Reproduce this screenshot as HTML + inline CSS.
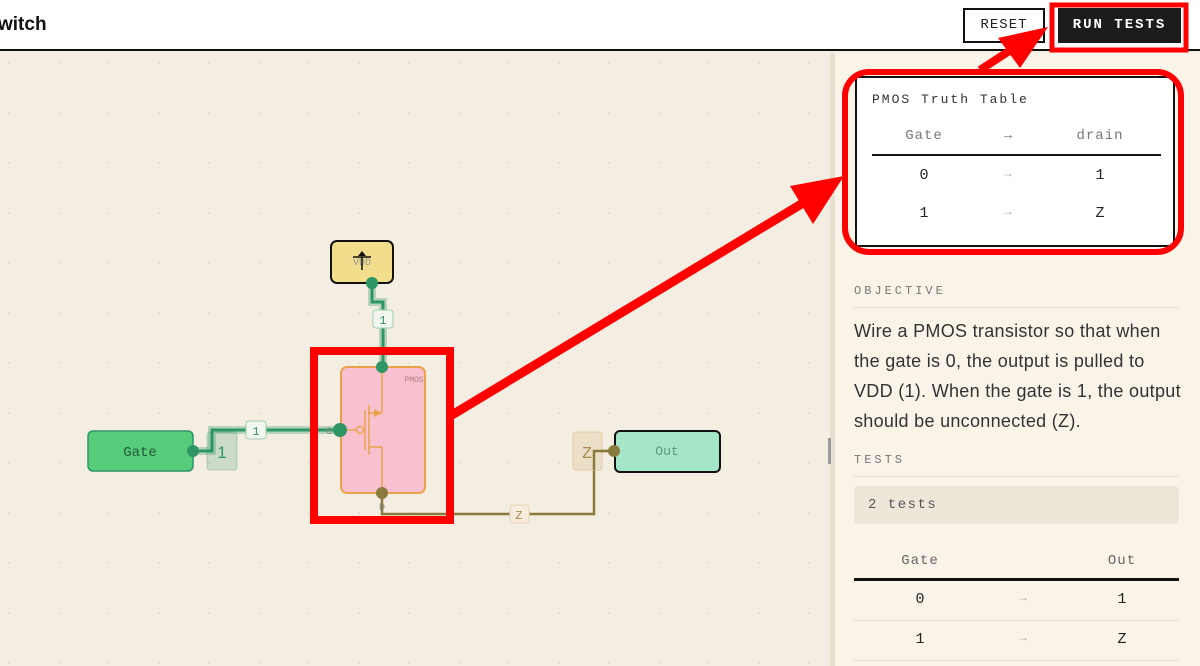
<!DOCTYPE html>
<html><head><style>
*{margin:0;padding:0;box-sizing:border-box}
body{width:1200px;height:666px;overflow:hidden;background:#f4ede1;font-family:"Liberation Sans",sans-serif;position:relative}
.mono{font-family:"Liberation Mono",monospace}
.abs{position:absolute}
</style></head><body>
<div class="abs" style="left:0;top:0;width:1200px;height:51px;background:#fff;border-bottom:2px solid #111"></div>
<div class="abs" style="left:-2px;top:14px;font-size:19px;font-weight:bold;color:#111">witch</div>
<div class="abs mono" style="left:963px;top:8px;width:82px;height:35px;border:2px solid #111;background:#fff;font-size:14px;letter-spacing:1px;text-align:center;line-height:31px;color:#222">RESET</div>
<div class="abs mono" style="left:1058px;top:8px;width:123px;height:35px;background:#1c1c1c;font-size:14px;letter-spacing:2px;text-align:center;line-height:35px;color:#fff;font-weight:bold">RUN TESTS</div>

<div class="abs" style="left:830px;top:53px;width:370px;height:613px;background:#f9f3e8;border-left:5px solid #e8dfcf"></div>
<div class="abs" style="left:828px;top:438px;width:3px;height:26px;background:#999"></div>

<div class="abs" style="left:855px;top:76px;width:320px;height:171px;background:#fff;border:2px solid #111"></div>
<div class="abs mono" style="left:872px;top:92px;font-size:13px;letter-spacing:2px;color:#333">PMOS Truth Table</div>
<div class="abs mono" style="left:874px;top:128px;width:100px;text-align:center;font-size:14px;color:#777;letter-spacing:1px">Gate</div>
<div class="abs mono" style="left:990px;top:128px;width:36px;text-align:center;font-size:14px;color:#777">→</div>
<div class="abs mono" style="left:1050px;top:128px;width:100px;text-align:center;font-size:14px;color:#777;letter-spacing:1px">drain</div>
<div class="abs" style="left:872px;top:154px;width:289px;height:2px;background:#111"></div>
<div class="abs mono" style="left:874px;top:167px;width:100px;text-align:center;font-size:15px;color:#222">0</div>
<div class="abs mono" style="left:990px;top:167px;width:36px;text-align:center;font-size:12px;color:#aaa">→</div>
<div class="abs mono" style="left:1050px;top:167px;width:100px;text-align:center;font-size:15px;color:#222">1</div>
<div class="abs mono" style="left:874px;top:205px;width:100px;text-align:center;font-size:15px;color:#222">1</div>
<div class="abs mono" style="left:990px;top:205px;width:36px;text-align:center;font-size:12px;color:#aaa">→</div>
<div class="abs mono" style="left:1050px;top:205px;width:100px;text-align:center;font-size:15px;color:#222">Z</div>

<div class="abs mono" style="left:854px;top:284px;font-size:12px;letter-spacing:3px;color:#777">OBJECTIVE</div>
<div class="abs" style="left:854px;top:307px;width:325px;height:1px;background:#e6dccb"></div>
<div class="abs" style="left:854px;top:316px;width:345px;font-size:18px;line-height:30px;color:#333;white-space:nowrap;letter-spacing:0.3px">Wire a PMOS transistor so that when<br>the gate is 0, the output is pulled to<br>VDD (1). When the gate is 1, the output<br>should be unconnected (Z).</div>
<div class="abs mono" style="left:854px;top:453px;font-size:12px;letter-spacing:3px;color:#777">TESTS</div>
<div class="abs" style="left:854px;top:476px;width:325px;height:1px;background:#e6dccb"></div>
<div class="abs mono" style="left:854px;top:486px;width:325px;height:38px;background:#efe6da;border-radius:4px;font-size:14px;letter-spacing:1.5px;color:#555;padding-left:14px;line-height:38px">2 tests</div>
<div class="abs mono" style="left:870px;top:553px;width:100px;text-align:center;font-size:14px;color:#666;letter-spacing:1px">Gate</div>
<div class="abs mono" style="left:1072px;top:553px;width:100px;text-align:center;font-size:14px;color:#666;letter-spacing:1px">Out</div>
<div class="abs" style="left:854px;top:578px;width:325px;height:3px;background:#111"></div>
<div class="abs mono" style="left:870px;top:591px;width:100px;text-align:center;font-size:15px;color:#222">0</div>
<div class="abs mono" style="left:1008px;top:591px;width:30px;text-align:center;font-size:12px;color:#aaa">→</div>
<div class="abs mono" style="left:1072px;top:591px;width:100px;text-align:center;font-size:15px;color:#222">1</div>
<div class="abs" style="left:854px;top:620px;width:325px;height:1px;background:#e6dccb"></div>
<div class="abs mono" style="left:870px;top:631px;width:100px;text-align:center;font-size:15px;color:#222">1</div>
<div class="abs mono" style="left:1008px;top:631px;width:30px;text-align:center;font-size:12px;color:#aaa">→</div>
<div class="abs mono" style="left:1072px;top:631px;width:100px;text-align:center;font-size:15px;color:#222">Z</div>
<div class="abs" style="left:854px;top:660px;width:325px;height:1px;background:#e6dccb"></div>

<svg class="abs" style="left:0;top:0" width="1200" height="666" viewBox="0 0 1200 666">
<defs><pattern id="d" width="50" height="50" patternUnits="userSpaceOnUse" x="8" y="12"><circle cx="1" cy="1" r="1" fill="#e3d9c8"/></pattern></defs>
<rect x="0" y="53" width="828" height="613" fill="url(#d)"/>
<rect x="331" y="241" width="62" height="42" rx="6" fill="#f2dd8c" stroke="#111" stroke-width="2"/>
<text x="362" y="265" font-family="Liberation Mono,monospace" font-size="10" fill="#999" text-anchor="middle">VDD</text>
<path d="M362 251 L358 256 L366 256 Z" fill="#111"/><line x1="353" y1="257" x2="371" y2="257" stroke="#111" stroke-width="1.5"/><line x1="362" y1="257" x2="362" y2="270" stroke="#111" stroke-width="1.5"/>
<path d="M372 283 V302 H383 V367" fill="none" stroke="#2e9565" stroke-opacity=".3" stroke-width="8"/>
<path d="M372 283 V302 H383 V367" fill="none" stroke="#2e9565" stroke-width="3"/>
<path d="M193 451 H212 V430 H340" fill="none" stroke="#2e9565" stroke-opacity=".3" stroke-width="8"/>
<path d="M193 451 H212 V430 H340" fill="none" stroke="#2e9565" stroke-width="3"/>
<rect x="373" y="310" width="20" height="18" rx="3" fill="#f2f6ee" stroke="#9fd0b3"/>
<text x="383" y="324" font-family="Liberation Mono,monospace" font-size="12" fill="#2e9565" text-anchor="middle">1</text>
<rect x="246" y="421" width="20" height="18" rx="3" fill="#f2f6ee" stroke="#9fd0b3"/>
<text x="256" y="435" font-family="Liberation Mono,monospace" font-size="12" fill="#2e9565" text-anchor="middle">1</text>
<rect x="88" y="431" width="105" height="40" rx="5" fill="#57cc7a" stroke="#2e9565" stroke-width="1.5"/>
<text x="140" y="456" font-family="Liberation Mono,monospace" font-size="14" fill="#1f5a3a" text-anchor="middle">Gate</text>
<rect x="207" y="432" width="30" height="38" rx="3" fill="#2e9565" fill-opacity=".2" stroke="#2e9565" stroke-opacity=".3"/>
<text x="222" y="458" font-family="Liberation Sans,sans-serif" font-size="17" fill="#2e9565" text-anchor="middle">1</text>
<circle cx="193" cy="451" r="6" fill="#2e9565"/>
<path d="M382 493 V514 H594 V451 H614" fill="none" stroke="#8a7a3e" stroke-width="2.5"/>
<rect x="510" y="505" width="19" height="18" rx="3" fill="#f5ecdc" stroke="#e5d6b5"/>
<text x="519" y="519" font-family="Liberation Mono,monospace" font-size="12" fill="#a88a4a" text-anchor="middle">Z</text>
<rect x="573" y="432" width="29" height="38" rx="3" fill="#ecdfc8" stroke="#e0cda4"/>
<text x="587" y="458" font-family="Liberation Sans,sans-serif" font-size="16" fill="#a88a4a" text-anchor="middle">Z</text>
<path d="M594 470 V451 H614" fill="none" stroke="#8a7a3e" stroke-width="2.5"/>
<rect x="615" y="431" width="105" height="41" rx="5" fill="#a6e6c8" stroke="#111" stroke-width="2"/>
<text x="667" y="455" font-family="Liberation Mono,monospace" font-size="13" fill="#5a9a7a" text-anchor="middle">Out</text>
<circle cx="614" cy="451" r="6" fill="#8a7a3e"/>
<rect x="341" y="367" width="84" height="126" rx="6" fill="#f9c0cf" stroke="#e9a24a" stroke-width="2"/>
<text x="414" y="382" font-family="Liberation Mono,monospace" font-size="8" fill="#b08080" text-anchor="middle">PMOS</text>
<g stroke="#e9a24a" stroke-width="1.5" fill="none">
<line x1="382" y1="367" x2="382" y2="413"/><line x1="369" y1="413" x2="382" y2="413"/>
<line x1="382" y1="447" x2="382" y2="493"/><line x1="369" y1="447" x2="382" y2="447"/>
<line x1="369" y1="405" x2="369" y2="455"/><line x1="365" y1="410" x2="365" y2="450"/>
<line x1="341" y1="430" x2="356" y2="430"/><circle cx="360" cy="430" r="3.5"/>
</g>
<path d="M382 413 L374 409 L374 417 Z" fill="#e9a24a"/>
<text x="326" y="434" font-family="Liberation Mono,monospace" font-size="10" fill="#888">G</text>
<text x="382" y="510" font-family="Liberation Mono,monospace" font-size="10" fill="#888" text-anchor="middle">D</text>
<circle cx="382" cy="367" r="6" fill="#2e9565"/>
<circle cx="372" cy="283" r="6" fill="#2e9565"/>
<circle cx="340" cy="430" r="7" fill="#2e9565"/>
<circle cx="382" cy="493" r="6" fill="#8a7a3e"/>
<rect x="314" y="351" width="136" height="169" fill="none" stroke="#f00" stroke-width="8"/>
<rect x="1052" y="5" width="134" height="45" fill="none" stroke="#f00" stroke-width="5"/>
<rect x="845" y="72" width="336" height="180" rx="24" fill="none" stroke="#f00" stroke-width="6"/>
<line x1="452" y1="415" x2="808" y2="200" stroke="#f00" stroke-width="9"/>
<path d="M844 176 L790 186 L813 224 Z" fill="#f00"/>
<line x1="980" y1="70" x2="1020" y2="44" stroke="#f00" stroke-width="8"/>
<path d="M1048 27 L998 38 L1020 68 Z" fill="#f00"/>
</svg>
</body></html>
